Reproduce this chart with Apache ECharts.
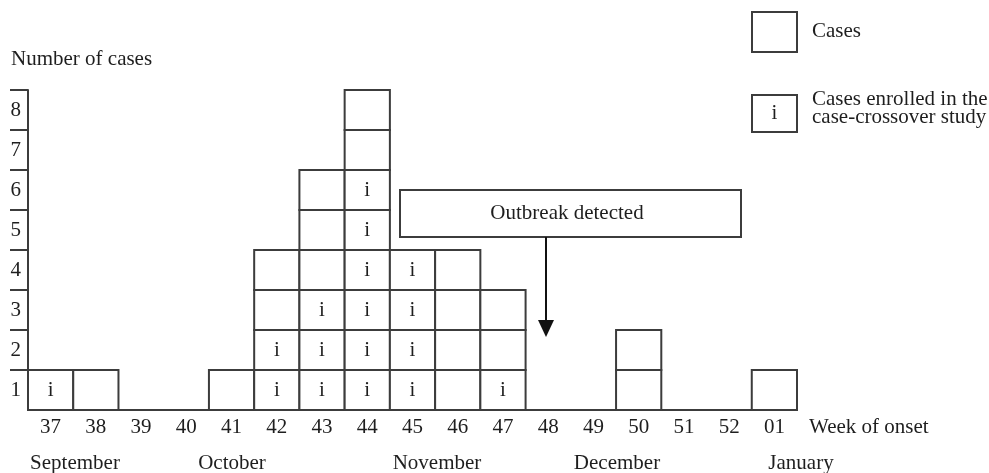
<!DOCTYPE html>
<html>
<head>
<meta charset="utf-8">
<script src="https://cdn.jsdelivr.net/npm/echarts@6/dist/echarts.min.js"></script>
<style>
html,body{margin:0;padding:0;background:#fff;}
#chart{width:989px;height:473px;}
</style>
</head>
<body>
<div id="chart"></div>
<script>
// Week of onset categories
var weeks = ['37','38','39','40','41','42','43','44','45','46','47','48','49','50','51','52','01'];
// Total cases per week
var counts = [1,1,0,0,1,4,6,8,4,4,3,0,0,2,0,0,1];
// Cases enrolled in the case-crossover study (bottom boxes marked "i")
var enrolled = [1,0,0,0,0,2,3,6,4,0,1,0,0,0,0,0,0];
// Y tick values and label positions
var yTicks = [1,2,3,4,5,6,7,8];
var yLabelPos = [0.5,1.5,2.5,3.5,4.5,5.5,6.5,7.5];
// Month labels
var months = ['September','October','November','December','January'];
var monthX = [75, 232, 437, 617, 801];

var FONT = '"Liberation Serif", "DejaVu Serif", serif';
var LINE = '#3c3c3c';
var TXT = '#1e1e1e';
var FS = 21;

var chart = echarts.init(document.getElementById('chart'), null, {renderer:'canvas'});

var seriesData = weeks.map(function(w, i){ return [i, counts[i], enrolled[i]]; });

var graphics = [
  {type:'text', x:11, y:59, style:{text:'Number of cases', font:FS + 'px ' + FONT, fill:TXT, verticalAlign:'middle'}},
  // legend
  {type:'rect', shape:{x:752, y:12, width:45, height:40}, style:{fill:'#fff', stroke:LINE, lineWidth:2}},
  {type:'text', x:812, y:31, style:{text:'Cases', font:FS + 'px ' + FONT, fill:TXT, verticalAlign:'middle'}},
  {type:'rect', shape:{x:752, y:95, width:45, height:37}, style:{fill:'#fff', stroke:LINE, lineWidth:2}},
  {type:'text', x:774.5, y:113, style:{text:'i', font:FS + 'px ' + FONT, fill:TXT, align:'center', verticalAlign:'middle'}},
  {type:'text', x:812, y:108, style:{text:'Cases enrolled in the\ncase-crossover study', font:FS + 'px ' + FONT, lineHeight:18, fill:TXT, verticalAlign:'middle'}},
  // outbreak annotation
  {type:'rect', shape:{x:400, y:190, width:341, height:47}, style:{fill:'#fff', stroke:LINE, lineWidth:2}, z:10},
  {type:'text', x:567, y:213, style:{text:'Outbreak detected', font:FS + 'px ' + FONT, fill:TXT, align:'center', verticalAlign:'middle'}, z:11},
  {type:'line', shape:{x1:546, y1:237, x2:546, y2:322}, style:{stroke:'#111', lineWidth:2}, z:10},
  {type:'polygon', shape:{points:[[538,320],[554,320],[546,337]]}, style:{fill:'#111'}, z:10}
];
months.forEach(function(m, i){
  graphics.push({type:'text', x:monthX[i], y:463, style:{text:m, font:FS + 'px ' + FONT, fill:TXT, align:'center', verticalAlign:'middle'}});
});

chart.setOption({
  animation:false,
  backgroundColor:'#fff',
  grid:{left:28, right:192, top:90, bottom:63, containLabel:false},
  xAxis:{
    type:'category',
    data:weeks,
    boundaryGap:true,
    name:'Week of onset',
    nameLocation:'end',
    nameGap:12,
    nameTextStyle:{fontFamily:FONT, fontSize:FS, color:TXT, verticalAlign:'top', padding:[7,0,0,0]},
    axisLine:{show:true, lineStyle:{color:LINE, width:2}},
    axisTick:{show:false},
    axisLabel:{fontFamily:FONT, fontSize:FS, color:TXT, margin:7, interval:0},
    splitLine:{show:false}
  },
  yAxis:{
    type:'value',
    min:0, max:8, interval:1,
    axisLine:{show:true, lineStyle:{color:LINE, width:2}},
    axisTick:{show:true, inside:false, length:18, lineStyle:{color:LINE, width:2}, customValues:yTicks},
    axisLabel:{fontFamily:FONT, fontSize:FS, color:TXT, margin:7, customValues:yLabelPos,
      formatter:function(v){ return String(Math.round(v + 0.5)); }},
    splitLine:{show:false}
  },
  graphic:graphics,
  series:[{
    type:'custom',
    data:seriesData,
    renderItem:function(params, api){
      var idx = api.value(0), n = api.value(1), e = api.value(2);
      var base = api.coord([idx, 0]);
      var size = api.size([1, 1]);
      var w = size[0], h = size[1];
      var children = [];
      for (var k = 0; k < n; k++){
        var top = api.coord([idx, k + 1]);
        children.push({type:'rect', shape:{x:base[0] - w/2, y:top[1], width:w, height:h},
          style:{fill:'#fff', stroke:LINE, lineWidth:2}});
        if (k < e){
          children.push({type:'text', style:{text:'i', x:base[0], y:top[1] + h/2, align:'center', verticalAlign:'middle',
            font:FS + 'px ' + FONT, fill:TXT}});
        }
      }
      return {type:'group', children:children};
    }
  }]
});
</script>
</body>
</html>
